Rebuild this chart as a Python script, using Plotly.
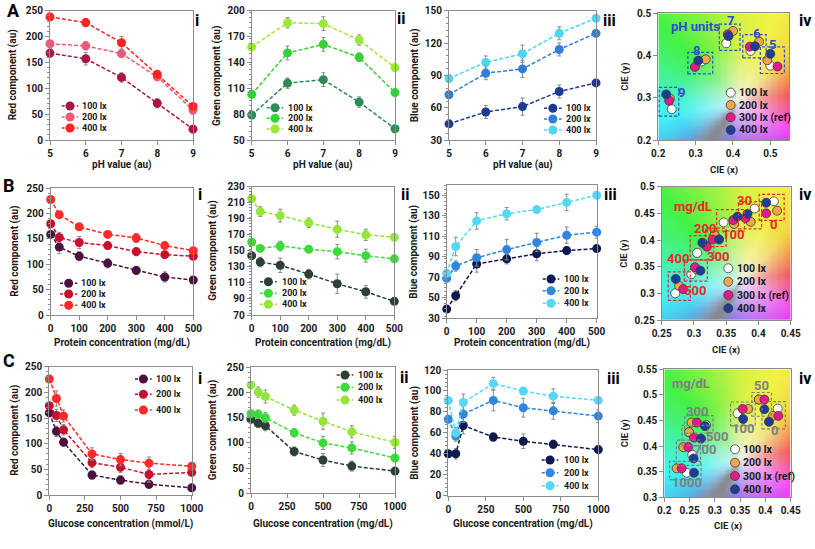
import numpy as np
import plotly.graph_objects as go

W, H = 815, 549
FONT = "Roboto"

# ---------------- data ----------------
ph = [5, 6, 7, 8, 9]
protein = [0, 30, 100, 200, 300, 400, 500]
glucose = [0, 50, 100, 300, 500, 700, 1000]
lux3 = ["100 lx", "200 lx", "400 lx"]
lux4 = ["100 lx", "200 lx", "300 lx (ref)", "400 lx"]

# A: pH
a_red_100 = [168, 157, 121, 71, 21]
a_red_200 = [186, 182, 167, 122, 58]
a_red_400 = [238, 227, 188, 127, 65]
a_red_err_100 = [8, 12, 9, 9, 5]
a_red_err_200 = [6, 8, 7, 7, 8]
a_red_err_400 = [4, 8, 12, 7, 6]

a_green_100 = [79, 116, 120, 94, 63]
a_green_200 = [103, 151, 161, 146, 105]
a_green_400 = [158, 186, 185, 166, 134]
a_green_err_100 = [4, 6, 8, 6, 3]
a_green_err_200 = [3, 8, 8, 5, 3]
a_green_err_400 = [3, 6, 8, 6, 3]

a_blue_100 = [45, 56, 61, 75, 83]
a_blue_200 = [72, 92, 96, 114, 129]
a_blue_400 = [87, 102, 110, 129, 143]
a_blue_err_100 = [3, 6, 8, 6, 3]
a_blue_err_200 = [3, 6, 8, 6, 3]
a_blue_err_400 = [3, 6, 8, 6, 3]

# B: protein
b_red_100 = [159, 134, 116, 102, 88, 75, 69]
b_red_200 = [180, 153, 143, 137, 125, 119, 116]
b_red_400 = [228, 198, 174, 159, 152, 137, 127]
b_red_err_100 = [6, 13, 9, 9, 8, 10, 6]
b_red_err_200 = [5, 10, 12, 7, 8, 7, 5]
b_red_err_400 = [4, 6, 5, 6, 9, 6, 5]

b_green_100 = [144, 136, 132, 121, 109, 99, 87]
b_green_200 = [161, 153, 156, 152, 149, 144, 140]
b_green_400 = [215, 199, 194, 185, 177, 170, 167]
b_green_err_100 = [4, 6, 9, 6, 12, 8, 3]
b_green_err_200 = [3, 4, 6, 4, 9, 8, 3]
b_green_err_400 = [3, 6, 8, 6, 10, 7, 3]

b_blue_100 = [39, 52, 83, 88, 93, 96, 98]
b_blue_200 = [69, 81, 89, 97, 104, 111, 114]
b_blue_400 = [74, 100, 125, 132, 136, 143, 150]
b_blue_err_100 = [3, 5, 8, 5, 7, 4, 3]
b_blue_err_200 = [3, 5, 8, 10, 9, 8, 6]
b_blue_err_400 = [3, 9, 8, 6, 3, 8, 3]

# C: glucose
c_red_100 = [160, 124, 103, 39, 29, 21, 14]
c_red_200 = [174, 155, 127, 63, 54, 40, 44]
c_red_400 = [226, 188, 154, 80, 69, 62, 56]
c_red_err_100 = [6, 10, 8, 8, 8, 8, 5]
c_red_err_200 = [6, 12, 10, 10, 10, 15, 5]
c_red_err_400 = [4, 15, 12, 12, 12, 12, 5]

c_green_100 = [147, 139, 134, 83, 66, 54, 44]
c_green_200 = [158, 157, 150, 120, 100, 90, 70]
c_green_400 = [215, 201, 192, 165, 143, 122, 101]
c_green_err_100 = [5, 8, 10, 9, 13, 10, 5]
c_green_err_200 = [5, 8, 10, 8, 13, 12, 5]
c_green_err_400 = [4, 10, 13, 10, 16, 12, 12]

c_blue_100 = [40, 40, 67, 56, 52, 49, 44]
c_blue_200 = [73, 57, 78, 91, 84, 81, 76]
c_blue_400 = [91, 60, 89, 107, 100, 95, 91]
c_blue_err_100 = [3, 5, 8, 4, 7, 4, 3]
c_blue_err_200 = [3, 5, 8, 10, 9, 8, 6]
c_blue_err_400 = [3, 5, 8, 6, 3, 7, 3]

# CIE chromaticity: groups
cieA_groups = ["5", "6", "7", "8", "9"]
cieA_x_100 = [0.500, 0.447, 0.382, 0.316, 0.236]
cieA_y_100 = [0.376, 0.411, 0.429, 0.386, 0.273]
cieA_x_200 = [0.492, 0.470, 0.400, 0.327, 0.231]
cieA_y_200 = [0.389, 0.433, 0.458, 0.391, 0.298]
cieA_x_300 = [0.519, 0.445, 0.386, 0.298, 0.229]
cieA_y_300 = [0.374, 0.421, 0.450, 0.373, 0.293]
cieA_x_400 = [0.500, 0.459, 0.388, 0.307, 0.221]
cieA_y_400 = [0.404, 0.422, 0.446, 0.388, 0.308]

cieB_groups = ["0", "30", "100", "200", "300", "400", "500"]
cieB_x_100 = [0.424, 0.394, 0.346, 0.332, 0.305, 0.296, 0.271]
cieB_y_100 = [0.4725, 0.459, 0.433, 0.409, 0.376, 0.336, 0.300]
cieB_x_200 = [0.429, 0.388, 0.362, 0.332, 0.317, 0.304, 0.277]
cieB_y_200 = [0.455, 0.434, 0.430, 0.409, 0.391, 0.345, 0.314]
cieB_x_300 = [0.412, 0.380, 0.361, 0.329, 0.320, 0.3015, 0.2835]
cieB_y_300 = [0.450, 0.441, 0.4375, 0.401, 0.3875, 0.349, 0.308]
cieB_x_400 = [0.412, 0.383, 0.3675, 0.339, 0.313, 0.310, 0.2717]
cieB_y_400 = [0.470, 0.449, 0.444, 0.401, 0.395, 0.3425, 0.327]

cieC_groups = ["0", "50", "100", "300", "500", "700", "1000"]
cieC_x_100 = [0.4243, 0.387, 0.345, 0.2825, 0.2488, 0.2554, 0.2442]
cieC_y_100 = [0.4732, 0.491, 0.464, 0.441, 0.427, 0.383, 0.348]
cieC_x_200 = [0.415, 0.387, 0.366, 0.254, 0.2488, 0.2376, 0.2244]
cieC_y_200 = [0.459, 0.491, 0.4725, 0.446, 0.427, 0.398, 0.3566]
cieC_x_300 = [0.4256, 0.398, 0.355, 0.2646, 0.2587, 0.2475, 0.2343]
cieC_y_300 = [0.459, 0.491, 0.4725, 0.446, 0.4165, 0.398, 0.3566]
cieC_x_400 = [0.407, 0.398, 0.356, 0.2805, 0.2726, 0.258, 0.2587]
cieC_y_400 = [0.4475, 0.472, 0.453, 0.439, 0.4146, 0.376, 0.348]

# ---------------- styles ----------------
red_A = ["#A8173F", "#EC5A78", "#FF2222"]
red_BC = ["#4B1240", "#C8102E", "#FF2A2A"]
green_A = ["#2E8B57", "#35D135", "#9BE83A"]
green_BC = ["#2C4034", "#3BDB3B", "#94E63C"]
blue_A = ["#1F3A93", "#2F7FD8", "#4DD6F2"]
blue_BC = ["#0E1A4F", "#2F86DE", "#55D8F5"]
cie_colors = ["#FFFFFF", "#F2A84A", "#E6198C", "#1E3C98"]

# pixel boxes of the plot areas (left, right, top, bottom)
boxes = {
    1: (50, 193, 10.7, 140), 2: (251.7, 395, 10.7, 140), 3: (449, 596, 10.7, 140),
    4: (658.3, 789, 13.3, 140),
    5: (50.7, 193.3, 188.3, 315), 6: (251.7, 394.3, 186.7, 315), 7: (446.7, 596.7, 185, 318.3),
    8: (661.7, 790.7, 186.7, 320),
    9: (49.3, 191.7, 366.7, 495), 10: (251, 395, 367.3, 493.3), 11: (448.3, 598.3, 370, 495.7),
    12: (664.3, 790.7, 369.3, 497.3),
}

fig = go.Figure()
shapes, annotations = [], []
AXC = "#8C8C8C"


def fnt(size, color="#1A1A1A"):
    return dict(family=FONT, size=size, color=color, weight="bold")


def px_x(x):
    return x / W


def px_y(y):
    return 1 - y / H


def axnames(k):
    s = "" if k == 1 else str(k)
    return "xaxis" + s, "yaxis" + s, "x" + s, "y" + s


def setup_axes(k, xr, xd, yr, yd, ytick0=None, minor=True):
    l, r, t, b = boxes[k]
    xa, ya, xn, yn = axnames(k)
    common = dict(showline=True, linecolor=AXC, linewidth=1, mirror=True, ticks="outside",
                  ticklen=4, tickcolor=AXC, showgrid=False, zeroline=False,
                  tickfont=fnt(10), automargin=False)
    xax = dict(common, domain=[l / W, r / W], range=xr, dtick=xd, tick0=xr[0], anchor=yn)
    yax = dict(common, domain=[1 - b / H, 1 - t / H], range=yr, dtick=yd,
               tick0=ytick0 if ytick0 is not None else yr[0], anchor=xn)
    if minor:
        yax["minor"] = dict(ticks="outside", ticklen=2, tickcolor=AXC, dtick=yd / 5)
    fig.layout[xa] = xax
    fig.layout[ya] = yax


def rgb_panel(k, xs, ys, errs, colors, xr, xd, yr, yd, xtitle, ytitle, xt_y, yt_x,
              leg, ytick0=None):
    xa, ya, xn, yn = axnames(k)
    setup_axes(k, xr, xd, yr, yd, ytick0)
    for y, e, c in zip(ys, errs, colors):
        fig.add_trace(go.Scatter(
            x=xs, y=y, mode="lines+markers", xaxis=xn, yaxis=yn, showlegend=False,
            cliponaxis=False, hoverinfo="skip",
            line=dict(color=c, width=1.5, dash="4px,2px"),
            marker=dict(size=9, color=c, line=dict(width=0)),
            error_y=dict(type="data", array=e, visible=True, color="#8A8A8A",
                         thickness=1, width=2)))
    l, r, t, b = boxes[k]
    annotations.append(dict(x=px_x((l + r) / 2), y=px_y(xt_y), xref="paper", yref="paper",
                            text=xtitle, showarrow=False, font=fnt(10),
                            xanchor="center", yanchor="middle"))
    annotations.append(dict(x=px_x(yt_x), y=px_y((t + b) / 2), xref="paper", yref="paper",
                            text=ytitle, showarrow=False, font=fnt(10), textangle=-90,
                            xanchor="center", yanchor="middle"))
    # legend
    lx0, lx1, tx, lys = leg
    for yy, lab, c in zip(lys, lux3, colors):
        shapes.append(dict(type="line", xref="paper", yref="paper", x0=px_x(lx0),
                           x1=px_x(lx1), y0=px_y(yy), y1=px_y(yy),
                           line=dict(color=c, width=1.5, dash="3px,2px")))
        cx = (lx0 + lx1) / 2
        shapes.append(dict(type="circle", xref="paper", yref="paper",
                           x0=px_x(cx - 4.5), x1=px_x(cx + 4.5),
                           y0=px_y(yy + 4.5), y1=px_y(yy - 4.5),
                           fillcolor=c, line=dict(width=0)))
        annotations.append(dict(x=px_x(tx), y=px_y(yy), xref="paper", yref="paper",
                                text=lab, showarrow=False, font=fnt(9),
                                xanchor="left", yanchor="middle"))


# ---------------- CIE background ----------------
def cie_background(n=110):
    u = (np.arange(n) + 0.5) / n
    U, V = np.meshgrid(u, u)
    du, dv = U - 0.62, V - 0.30
    ang = np.degrees(np.arctan2(dv, du))
    a_anc = [-180, -150, -90, -30, 0, 45, 90, 130, 180]
    h_anc = [170, 195, 265, 300, 350, 410, 430, 475, 530]
    hue = np.interp(ang, a_anc, h_anc) % 360
    dist = np.sqrt(du ** 2 + dv ** 2)
    s = np.clip(dist / 0.45, 0, 1) ** 0.8 * 0.72
    v = np.full_like(s, 0.95)
    g = np.exp(-((ang + 125) / 16) ** 2) * np.clip(dist / 0.15, 0, 1)
    s = s * (1 - 0.85 * g)
    v = v * (1 - 0.4 * g)
    h6 = hue / 60.0
    i = np.floor(h6).astype(int) % 6
    f = h6 - np.floor(h6)
    p = v * (1 - s)
    q = v * (1 - f * s)
    t = v * (1 - (1 - f) * s)
    r = np.choose(i, [v, q, p, p, t, v])
    gg = np.choose(i, [t, v, v, q, p, p])
    b = np.choose(i, [p, p, t, v, v, q])
    img = np.stack([r, gg, b], axis=-1)
    return (img * 255).round().astype(np.uint8)


BG = cie_background()


def cie_panel(k, xr, xd, yr, yd, xs_list, ys_list, groups, label_pos, label_color,
              title_pos, title_text, xt_y, yt_x, leg):
    xa, ya, xn, yn = axnames(k)
    setup_axes(k, xr, xd, yr, yd, minor=False)
    fig.layout[ya]["scaleanchor"] = False
    n = BG.shape[0]
    dx = (xr[1] - xr[0]) / n
    dy = (yr[1] - yr[0]) / n
    fig.add_trace(go.Image(z=BG, x0=xr[0] + dx / 2, dx=dx, y0=yr[0] + dy / 2, dy=dy,
                           xaxis=xn, yaxis=yn, hoverinfo="skip"))
    l, r, t, b = boxes[k]
    ppx = (r - l) / (xr[1] - xr[0])
    ppy = (b - t) / (yr[1] - yr[0])
    # dashed group boxes
    pad = 7.0
    for gi in range(len(groups)):
        gx = [xs[gi] for xs in xs_list]
        gy = [ys[gi] for ys in ys_list]
        shapes.append(dict(type="rect", xref=xn, yref=yn,
                           x0=min(gx) - pad / ppx, x1=max(gx) + pad / ppx,
                           y0=min(gy) - pad / ppy, y1=max(gy) + pad / ppy,
                           line=dict(color=label_color, width=1.2, dash="3px,2px"),
                           layer="above"))
    for xs, ys, c in zip(xs_list, ys_list, cie_colors):
        fig.add_trace(go.Scatter(x=xs, y=ys, mode="markers", xaxis=xn, yaxis=yn,
                                 showlegend=False, cliponaxis=False, hoverinfo="skip",
                                 marker=dict(size=9, color=c,
                                             line=dict(width=0.8, color="#3A3A3A"))))
    for gname, (lx, ly) in zip(groups, label_pos):
        annotations.append(dict(x=lx, y=ly, xref=xn, yref=yn, text=gname, showarrow=False,
                                font=fnt(13, label_color), xanchor="center",
                                yanchor="middle"))
    annotations.append(dict(x=title_pos[0], y=title_pos[1], xref=xn, yref=yn,
                            text=title_text, showarrow=False, font=fnt(13, label_color),
                            xanchor="center", yanchor="middle"))
    annotations.append(dict(x=px_x((l + r) / 2), y=px_y(xt_y), xref="paper", yref="paper",
                            text="CIE (x)", showarrow=False, font=fnt(9.5),
                            xanchor="center", yanchor="middle"))
    annotations.append(dict(x=px_x(yt_x), y=px_y((t + b) / 2), xref="paper", yref="paper",
                            text="CIE (y)", showarrow=False, font=fnt(9.5), textangle=-90,
                            xanchor="center", yanchor="middle"))
    mx, tx, lys = leg
    for yy, lab, c in zip(lys, lux4, cie_colors):
        shapes.append(dict(type="circle", xref="paper", yref="paper",
                           x0=px_x(mx - 4.5), x1=px_x(mx + 4.5),
                           y0=px_y(yy + 4.5), y1=px_y(yy - 4.5),
                           fillcolor=c, line=dict(width=0.8, color="#3A3A3A")))
        annotations.append(dict(x=px_x(tx), y=px_y(yy), xref="paper", yref="paper",
                                text=lab, showarrow=False, font=fnt(10.5),
                                xanchor="left", yanchor="middle"))


# ---------------- row A ----------------
rgb_panel(1, ph, [a_red_100, a_red_200, a_red_400],
          [a_red_err_100, a_red_err_200, a_red_err_400], red_A,
          [5, 9], 1, [0, 250], 50, "pH value (au)", "Red component (au)", 165, 13,
          (61.7, 78.3, 80, [106, 117, 128]))
rgb_panel(2, ph, [a_green_100, a_green_200, a_green_400],
          [a_green_err_100, a_green_err_200, a_green_err_400], green_A,
          [5, 9], 1, [50, 200], 30, "pH value (au)", "Green component (au)", 165, 217.7,
          (266.7, 283.3, 286, [107.7, 118.3, 129]))
rgb_panel(3, ph, [a_blue_100, a_blue_200, a_blue_400],
          [a_blue_err_100, a_blue_err_200, a_blue_err_400], blue_A,
          [5, 9], 1, [30, 150], 30, "pH value (au)", "Blue component (au)", 165, 415,
          (544, 561.7, 564, [108.3, 119, 130]))
cie_panel(4, [0.2, 0.55], 0.1, [0.2, 0.5], 0.1,
          [cieA_x_100, cieA_x_200, cieA_x_300, cieA_x_400],
          [cieA_y_100, cieA_y_200, cieA_y_300, cieA_y_400], cieA_groups,
          [(0.506, 0.427), (0.464, 0.451), (0.393, 0.483), (0.303, 0.413), (0.261, 0.3126)],
          "#2E4FC7", (0.300, 0.4685), "pH units", 170, 625,
          (730.7, 736.7, [92.7, 105, 117.3, 130]))

# ---------------- row B ----------------
rgb_panel(5, protein, [b_red_100, b_red_200, b_red_400],
          [b_red_err_100, b_red_err_200, b_red_err_400], red_BC,
          [0, 500], 100, [0, 250], 50, "Protein concentration (mg/dL)", "Red component (au)",
          343, 15, (60, 77.3, 79.3, [283.3, 294, 305.3]))
rgb_panel(6, protein, [b_green_100, b_green_200, b_green_400],
          [b_green_err_100, b_green_err_200, b_green_err_400], green_BC,
          [0, 500], 100, [70, 230], 20, "Protein concentration (mg/dL)",
          "Green component (au)", 343, 213, (260, 276.7, 280, [281.7, 293.3, 304.3]))
rgb_panel(7, protein, [b_blue_100, b_blue_200, b_blue_400],
          [b_blue_err_100, b_blue_err_200, b_blue_err_400], blue_BC,
          [0, 500], 100, [30, 160], 20, "Protein concentration (mg/dL)",
          "Blue component (au)", 343, 414, (542.7, 559.3, 561.7, [279, 290.7, 303.3]),
          ytick0=30)
cie_panel(8, [0.25, 0.45], 0.05, [0.25, 0.5], 0.05,
          [cieB_x_100, cieB_x_200, cieB_x_300, cieB_x_400],
          [cieB_y_100, cieB_y_200, cieB_y_300, cieB_y_400], cieB_groups,
          [(0.423, 0.429), (0.378, 0.474), (0.361, 0.411), (0.317, 0.422),
           (0.338, 0.370), (0.276, 0.366), (0.302, 0.306)],
          "#E8282B", (0.299, 0.4638), "mg/dL", 350, 624.3,
          (728.3, 735, [268.3, 281.7, 295, 308.3]))

# ---------------- row C ----------------
rgb_panel(9, glucose, [c_red_100, c_red_200, c_red_400],
          [c_red_err_100, c_red_err_200, c_red_err_400], red_BC,
          [0, 1000], 250, [0, 250], 50, "Glucose concentration (mmol/L)",
          "Red component (au)", 524, 15, (135, 151.7, 154, [379, 394.3, 410]))
rgb_panel(10, glucose, [c_green_100, c_green_200, c_green_400],
          [c_green_err_100, c_green_err_200, c_green_err_400], green_BC,
          [0, 1000], 250, [0, 250], 50, "Glucose concentration (mg/dL)",
          "Green component (au)", 524, 213, (336.7, 353.3, 355.7, [375, 387.3, 400]))
rgb_panel(11, glucose, [c_blue_100, c_blue_200, c_blue_400],
          [c_blue_err_100, c_blue_err_200, c_blue_err_400], blue_BC,
          [0, 1000], 250, [0, 120], 20, "Glucose concentration (mg/dL)",
          "Blue component (au)", 524, 415, (541.7, 558.3, 561.7, [460, 472.7, 485.7]))
cie_panel(12, [0.2, 0.45], 0.05, [0.3, 0.55], 0.05,
          [cieC_x_100, cieC_x_200, cieC_x_300, cieC_x_400],
          [cieC_y_100, cieC_y_200, cieC_y_300, cieC_y_400], cieC_groups,
          [(0.4177, 0.4302), (0.3913, 0.5175), (0.3563, 0.4348), (0.264, 0.467),
           (0.3036, 0.4185), (0.2805, 0.3925), (0.2442, 0.3286)],
          "#808080", (0.2528, 0.5214), "mg/dL", 525.7, 625,
          (735, 741, [449.3, 462.7, 476, 489.3]))

# ---------------- panel labels ----------------
for txt, x, y, sz in [("A", 13, 11, 18), ("B", 9, 185, 18), ("C", 9, 360, 18)]:
    annotations.append(dict(x=px_x(x), y=px_y(y), xref="paper", yref="paper", text=txt,
                            showarrow=False, font=fnt(sz, "#000000"),
                            xanchor="center", yanchor="middle"))
for txt, x, y in [("i", 197, 20), ("ii", 401, 18), ("iii", 609, 20), ("iv", 805, 20),
                  ("i", 200, 195), ("ii", 405, 195), ("iii", 610, 195), ("iv", 805, 195),
                  ("i", 200, 378), ("ii", 404, 377), ("iii", 613, 378), ("iv", 805, 378)]:
    annotations.append(dict(x=px_x(x), y=px_y(y), xref="paper", yref="paper", text=txt,
                            showarrow=False, font=fnt(16, "#000000"),
                            xanchor="center", yanchor="middle"))

fig.update_layout(width=W, height=H, margin=dict(l=0, r=0, t=0, b=0),
                  paper_bgcolor="white", plot_bgcolor="white", showlegend=False,
                  shapes=shapes, annotations=annotations, font=dict(family=FONT))
fig.write_html("out.html", config={"displayModeBar": False},
               post_script="document.body.style.margin='0px';"
                           "document.body.style.overflow='hidden';")
